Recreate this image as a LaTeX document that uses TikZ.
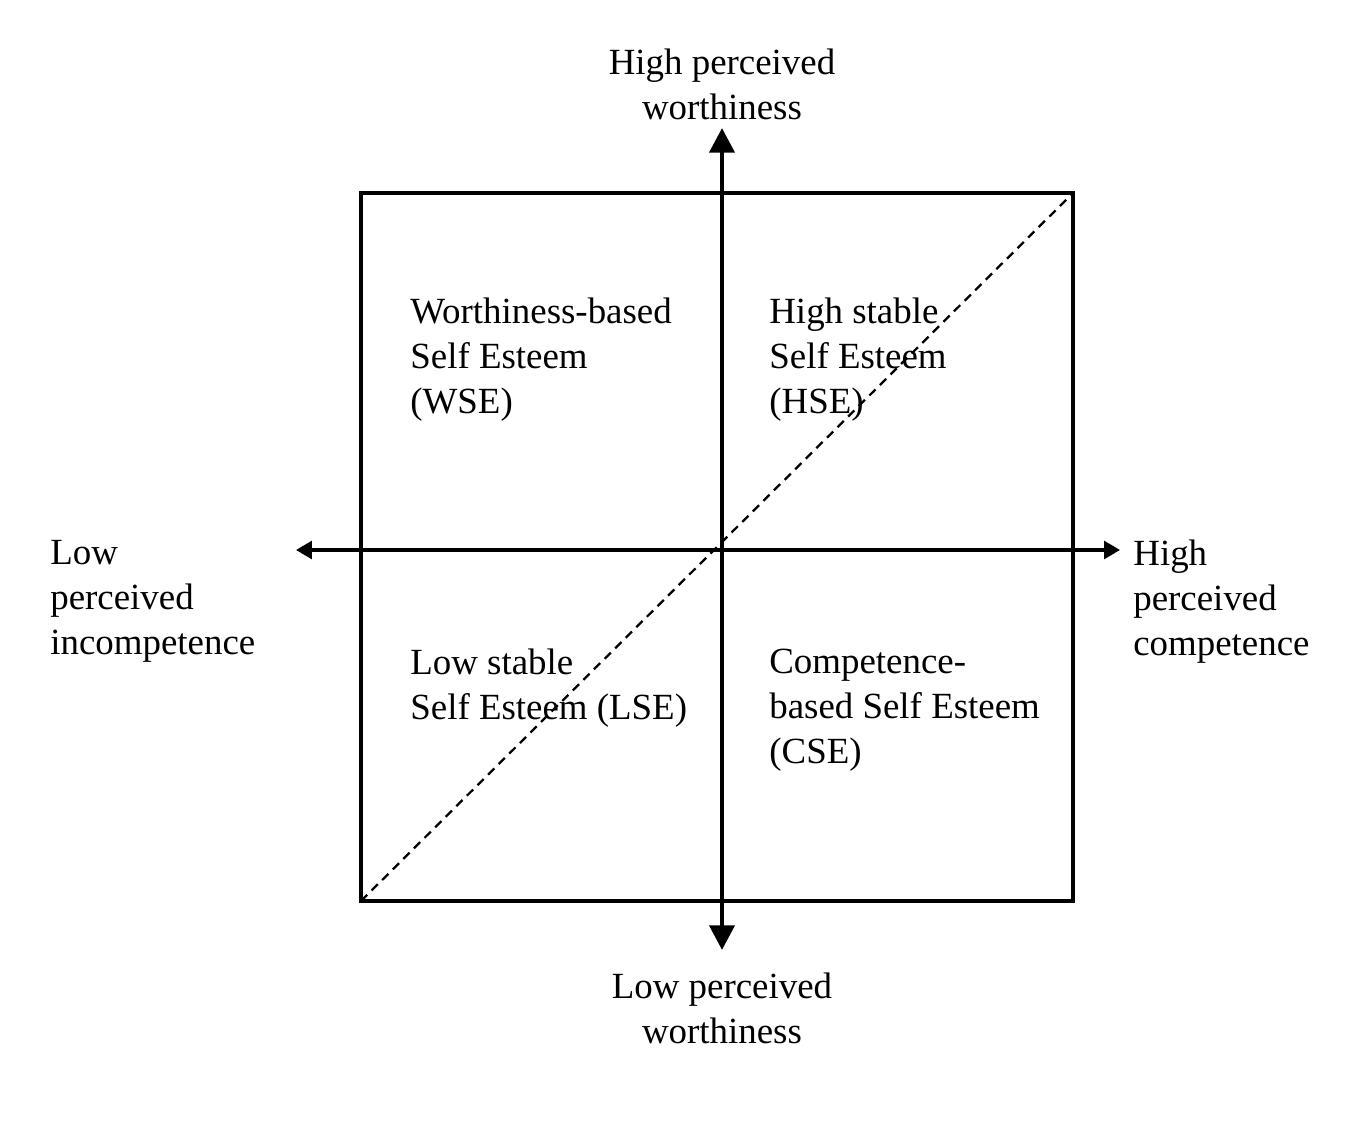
\documentclass[tikz,border=0pt]{standalone}
\usepackage{fontspec}
\setmainfont{Liberation Serif}
\usetikzlibrary{arrows.meta}

\begin{document}
\begin{tikzpicture}[x=0.02cm,y=-0.02cm,
    lbl/.style={font=\fontsize{21}{25.5}\selectfont, align=left, inner sep=0pt},
    axis/.style={line width=2.8pt}]
    \useasboundingbox (0,0) rectangle (1359,1122);

    % quadrant frame
    \draw[line width=1.8pt] (361,193) rectangle (1073,901);
    \coordinate (ll) at (361,901);
    \coordinate (ur) at (1073,193);
    \draw[line width=1.3pt, dash pattern=on 5pt off 3.5pt] (ll) -- (ur);

    % axes
    \coordinate (top) at (722,128);
    \coordinate (bot) at (722,950);
    \coordinate (lft) at (296,550);
    \coordinate (rgt) at (1120,550);
    \draw[axis, -{Triangle[length=14pt,width=14pt]}] (722,550) -- (top);
    \draw[axis, -{Triangle[length=14pt,width=14pt]}] (722,550) -- (bot);
    \draw[line width=2pt, -{Triangle[length=9pt,width=10pt]}] (722,550) -- (lft);
    \draw[line width=2pt, -{Triangle[length=9pt,width=10pt]}] (722,550) -- (rgt);

    % axis labels
    \node[lbl, align=center] (hw) at (722,84) {High perceived\\worthiness};
    \node[lbl, align=center] (lw) at (722,1008) {Low perceived\\worthiness};
    \node[lbl, anchor=north west] (lc) at (50,540) {Low\\perceived\\incompetence};
    \node[lbl, anchor=north west] (hc) at (1133,540) {High\\perceived\\competence};

    % quadrant labels
    \node[lbl, anchor=north west] (wse) at (410,298) {Worthiness-based\\Self Esteem\\(WSE)};
    \node[lbl, anchor=north west] (hse) at (769,298) {High stable\\Self Esteem\\(HSE)};
    \node[lbl, anchor=north west] (lse) at (410,649) {Low stable\\Self Esteem (LSE)};
    \node[lbl, anchor=north west] (cse) at (769,649) {Competence-\\based Self Esteem\\(CSE)};
\end{tikzpicture}
\end{document}
